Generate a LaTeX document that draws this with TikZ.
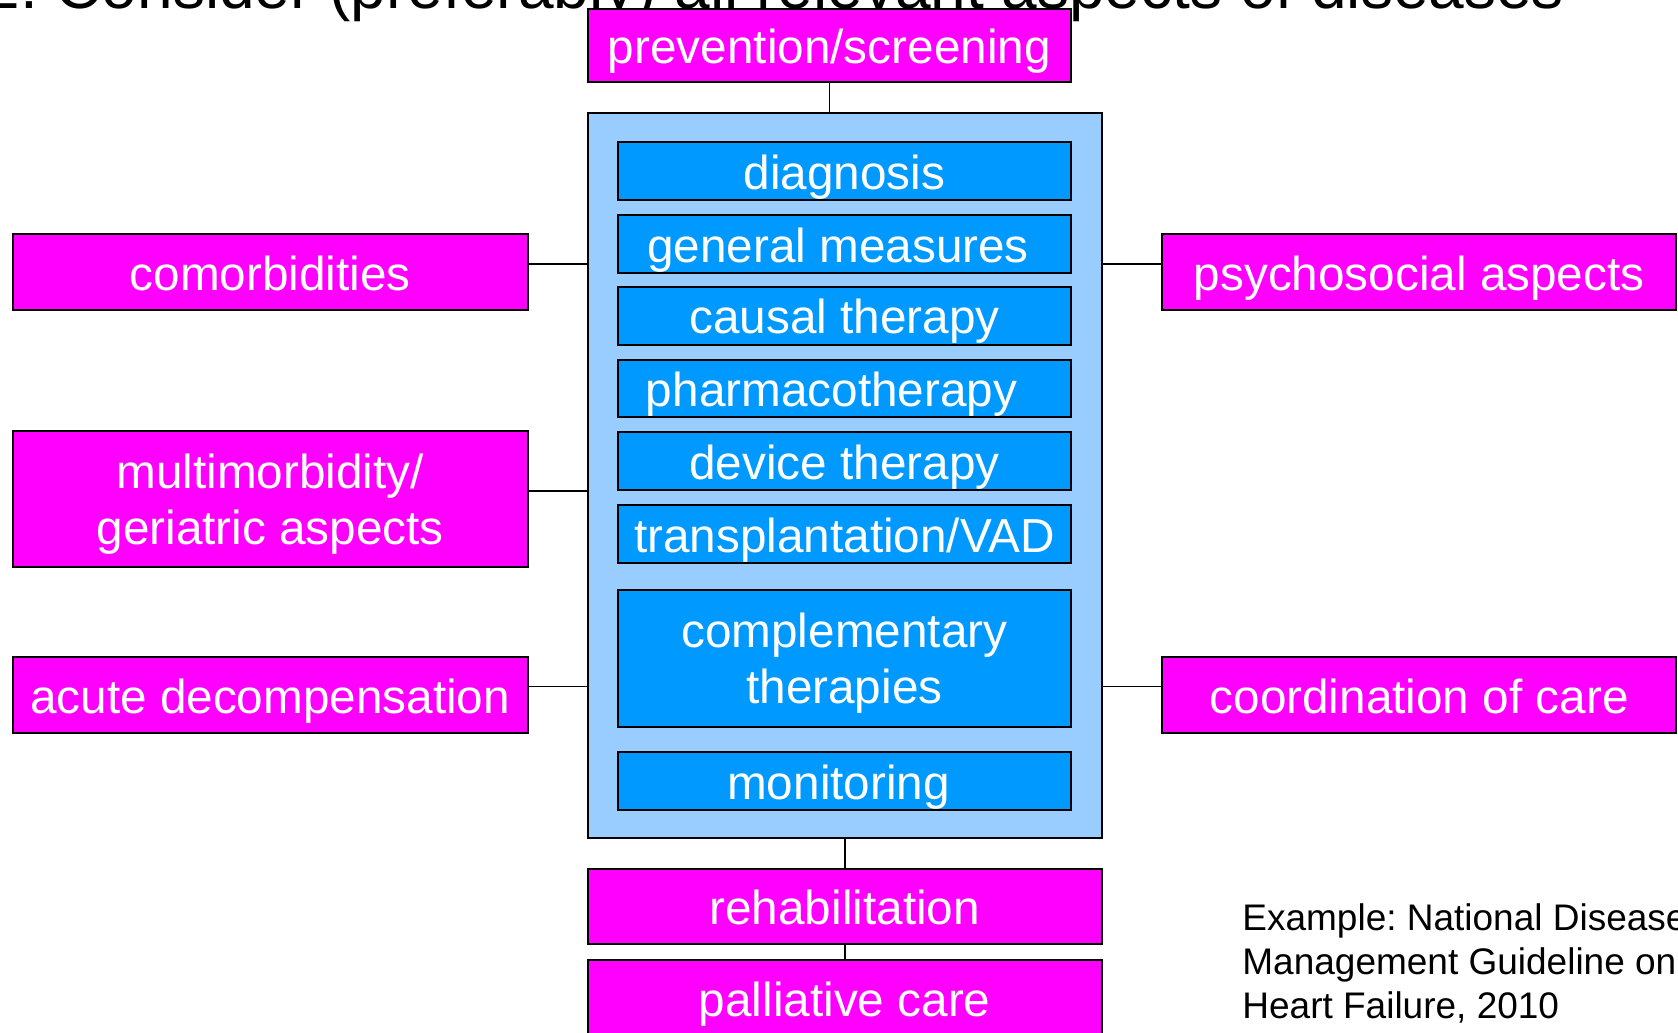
\documentclass[tikz,border=0pt]{standalone}
\usepackage{fontspec}
\setmainfont{Liberation Sans}
\usetikzlibrary{fit}
\definecolor{mag}{HTML}{FF00FF}
\definecolor{lblue}{HTML}{99CCFF}
\definecolor{dblue}{HTML}{0099FF}
\frenchspacing
\begin{document}
\begin{tikzpicture}[x=0.5pt,y=-0.5pt,
  box/.style={draw=black, line width=1pt, inner sep=0pt},
  pbox/.style={box, fill=mag},
  bbox/.style={box, fill=dblue},
  wt/.style={text=white, font=\fontsize{23.85pt}{28pt}\selectfont, inner sep=0pt, anchor=base},
  note/.style={anchor=base west, inner sep=0pt, font=\fontsize{18.5pt}{22pt}\selectfont},
  conn/.style={draw=black, line width=0.75pt}]
\useasboundingbox (0,0) rectangle (1678,1033);
\clip (0,0) rectangle (1678,1033);
% title (mostly cut off at the top)
\node[anchor=base east, inner sep=0pt, font=\fontsize{32pt}{38pt}\selectfont] (title) at (1564.5,8.5) {2. Consider (preferably) all relevant aspects of diseases};
% boxes
\node[pbox, fit={(587.5,8.6)(1071.3,82.4)}] (prev) {};
\node[box, fill=lblue, fit={(587.5,113.4)(1102,838)}] (big) {};
\node[bbox, fit={(617.5,142.3)(1071.3,200.1)}] (diag) {};
\node[bbox, fit={(617.5,215.1)(1071.3,272.9)}] (gen) {};
\node[bbox, fit={(617.5,286.8)(1071.3,344.6)}] (caus) {};
\node[bbox, fit={(617.5,359.6)(1071.3,417.4)}] (phar) {};
\node[bbox, fit={(617.5,432.4)(1071.3,490.2)}] (dev) {};
\node[bbox, fit={(617.5,505.1)(1071.3,562.9)}] (trans) {};
\node[bbox, fit={(617.5,589.7)(1071.3,726.7)}] (comp) {};
\node[bbox, fit={(617.5,752.4)(1071.3,810.1)}] (mon) {};
\node[pbox, fit={(12.8,234.4)(527.5,310.4)}] (com) {};
\node[pbox, fit={(12.8,431.3)(527.5,567.2)}] (multi) {};
\node[pbox, fit={(12.8,657.1)(527.5,733.1)}] (acute) {};
\node[pbox, fit={(1162.3,234.4)(1676,310.4)}] (psy) {};
\node[pbox, fit={(1162.3,657.1)(1676,733.1)}] (coord) {};
\node[pbox, fit={(587.5,869)(1102,943.9)}] (rehab) {};
\node[pbox, fit={(587.5,960)(1102,1045)}] (pall) {};
% connectors
\draw[conn] (prev.south) -- (prev.south |- big.north);
\draw[conn] ([yshift=4.2pt]com.east) -- ([yshift=4.2pt]com.east -| big.west);
\draw[conn] ([yshift=4.2pt]multi.east) -- ([yshift=4.2pt]multi.east -| big.west);
\draw[conn] ([yshift=4.2pt]acute.east) -- ([yshift=4.2pt]acute.east -| big.west);
\draw[conn] ([yshift=4.2pt]psy.west) -- ([yshift=4.2pt]psy.west -| big.east);
\draw[conn] ([yshift=4.2pt]coord.west) -- ([yshift=4.2pt]coord.west -| big.east);
\draw[conn] (big.south) -- (rehab.north);
\draw[conn] (rehab.south) -- (pall.north);
% texts
\node[wt, yshift=-9.1pt] (tprev) at (prev.center) {prevention/screening};
\node[wt, yshift=-9.1pt] (tdiag) at (diag.center) {diagnosis};
\node[wt, yshift=-9.1pt, xshift=-3.2pt] (tgen) at (gen.center) {general measures};
\node[wt, yshift=-9.1pt] (tcaus) at (caus.center) {causal therapy};
\node[wt, yshift=-9.1pt, xshift=-6.4pt] (tphar) at (phar.center) {pharmacotherapy};
\node[wt, yshift=-9.1pt] (tdev) at (dev.center) {device therapy};
\node[wt, yshift=-9.1pt] (ttrans) at (trans.center) {transplantation/VAD};
\node[wt, yshift=5.4pt] (tcomp1) at (comp.center) {complementary};
\node[wt, yshift=-22.85pt] (tcomp2) at (comp.center) {therapies};
\node[wt, yshift=-9.1pt, xshift=-2.9pt] (tmon) at (mon.center) {monitoring};
\node[wt, yshift=-9.1pt] (tcom) at (com.center) {comorbidities};
\node[wt, yshift=5.4pt] (tmulti1) at (multi.center) {multimorbidity/};
\node[wt, yshift=-22.85pt] (tmulti2) at (multi.center) {geriatric aspects};
\node[wt, yshift=-9.1pt] (tacute) at (acute.center) {acute decompensation};
\node[wt, yshift=-9.1pt] (tpsy) at (psy.center) {psychosocial aspects};
\node[wt, yshift=-9.1pt] (tcoord) at (coord.center) {coordination of care};
\node[wt, yshift=-9.1pt] (trehab) at (rehab.center) {rehabilitation};
\node[wt] (tpall) at (pall.north |- 0,1016.5) {palliative care};
% source note
\node[note] (ex1) at (1242,930.7) {Example: National Disease};
\node[note] (ex2) at (1242,974.5) {Management Guideline on};
\node[note] (ex3) at (1242,1018) {Heart Failure, 2010};
\end{tikzpicture}
\end{document}
